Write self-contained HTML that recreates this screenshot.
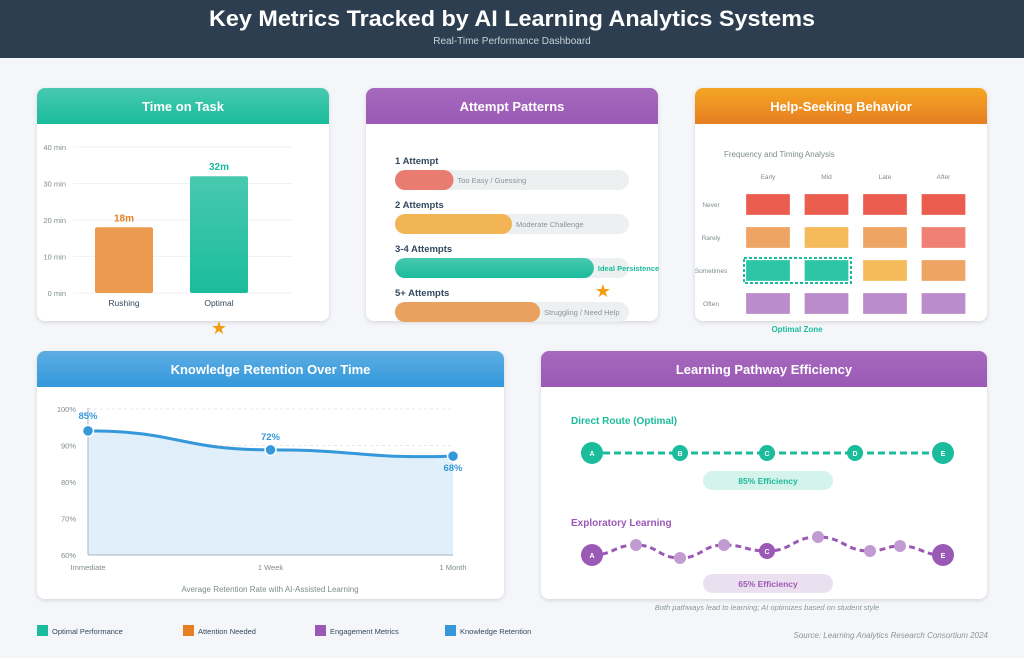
<!DOCTYPE html>
<html><head><meta charset="utf-8">
<style>
html,body{margin:0;padding:0;width:1024px;height:658px;overflow:hidden;background:#f5f6fa;font-family:"Liberation Sans",sans-serif;}
svg{display:block}
</style></head>
<body>
<svg id="s" width="1024" height="658" viewBox="0 0 1024 658" xmlns="http://www.w3.org/2000/svg" font-family="Liberation Sans, sans-serif">
<defs>
<linearGradient id="gT" x1="0" y1="0" x2="0" y2="1"><stop offset="0" stop-color="#48c9b0"/><stop offset="1" stop-color="#1abc9c"/></linearGradient>
<linearGradient id="gP" x1="0" y1="0" x2="0" y2="1"><stop offset="0" stop-color="#a569bd"/><stop offset="1" stop-color="#9b59b6"/></linearGradient>
<linearGradient id="gO" x1="0" y1="0" x2="0" y2="1"><stop offset="0" stop-color="#f5a623"/><stop offset="1" stop-color="#e67e22"/></linearGradient>
<linearGradient id="gB" x1="0" y1="0" x2="0" y2="1"><stop offset="0" stop-color="#5dade2"/><stop offset="1" stop-color="#3498db"/></linearGradient>
<filter id="sh" x="-5%" y="-5%" width="110%" height="115%"><feDropShadow dx="0" dy="1.5" stdDeviation="2" flood-color="#000" flood-opacity="0.13"/></filter>
</defs>
<g>
<rect x="0" y="0" width="1024" height="58" fill="#2c3e50"/>
<text x="512" y="26" text-anchor="middle" font-size="22" font-weight="bold" fill="#fff" textLength="606" lengthAdjust="spacingAndGlyphs">Key Metrics Tracked by AI Learning Analytics Systems</text>
<text x="512" y="44" text-anchor="middle" font-size="10" fill="#c9d1d9">Real-Time Performance Dashboard</text>
</g>
<g id="cards"></g>
<g id="content"></g>
</svg>
<script>
// ---- data ----
const timeCats=['Rushing','Optimal'];
const timeVals=[18,32];
const timeLabels=['18m','32m'];
const timeTicks=[0,10,20,30,40];
const attemptCats=['1 Attempt','2 Attempts','3-4 Attempts','5+ Attempts'];
const attemptVals=[25,50,85,62];
const attemptNotes=['Too Easy / Guessing','Moderate Challenge','Ideal Persistence','Struggling / Need Help'];
const heatCols=['Early','Mid','Late','After'];
const heatRows=['Never','Rarely','Sometimes','Often'];
const heatVals=[['#eb5e4f','#eb5e4f','#eb5e4f','#eb5e4f'],['#eea563','#f5bb5a','#eea563','#ef8073'],['#2ec4a6','#2ec4a6','#f5bb5a','#eea563'],['#bb8ccb','#bb8ccb','#bb8ccb','#bb8ccb']];
const retCats=['Immediate','1 Week','1 Month'];
const retVals=[94,88.8,87.1];
const retLabels=['85%','72%','68%'];
const retTicks=[60,70,80,90,100];

const NS='http://www.w3.org/2000/svg';
function el(tag,attrs,parent,txt){const e=document.createElementNS(NS,tag);for(const k in attrs)e.setAttribute(k,attrs[k]);if(txt!==undefined)e.textContent=txt;parent.appendChild(e);return e;}
const cards=document.getElementById('cards'), C=document.getElementById('content');

// cards
const cardDefs=[[37,88,292,233,'gT','Time on Task','time-on-task-card'],[366,88,292,233,'gP','Attempt Patterns','attempt-patterns-card'],[695,88,292,233,'gO','Help-Seeking Behavior','help-seeking-card'],[37,351,467,248,'gB','Knowledge Retention Over Time','retention-card'],[541,351,446,248,'gP','Learning Pathway Efficiency','pathway-card']];
cardDefs.forEach(d=>{
 const g=el('g',{},cards);
 
 
 el('rect',{x:d[0],y:d[1],width:d[2],height:d[3],rx:8,fill:'#fff',filter:'url(#sh)'},g);
 el('path',{d:`M${d[0]} ${d[1]+36}V${d[1]+8}a8 8 0 0 1 8 -8H${d[0]+d[2]-8}a8 8 0 0 1 8 8V${d[1]+36}Z`,fill:`url(#${d[4]})`},g);
 const t=el('text',{x:d[0]+d[2]/2,y:d[1]+23,'text-anchor':'middle','font-size':13,'font-weight':'bold',fill:'#fff'},g,d[5]);
 
 
});

// ---- time on task ----
const tY=v=>293-v*3.65;
const tg=el('g',{},C);


timeTicks.forEach(v=>{
 el('line',{x1:73,x2:292,y1:tY(v),y2:tY(v),stroke:'#f0f2f4','stroke-width':1},tg);
 const t=el('text',{x:66,y:tY(v)+3,'text-anchor':'end','font-size':7.5,fill:'#7f8c8d'},tg,v+' min');
 
 
});
const tColors=['#ec9a4f','url(#gT)'], tTxt=['#e67e22','#1abc9c'];
timeCats.forEach((c,i)=>{
 const x=95+i*95;
 const b=el('rect',{x:x,y:tY(timeVals[i]),width:58,height:tY(0)-tY(timeVals[i]),rx:2,fill:tColors[i]},tg);
 
 
 const v=el('text',{x:x+29,y:tY(timeVals[i])-6,'text-anchor':'middle','font-size':10,'font-weight':'bold',fill:tTxt[i]},tg,timeLabels[i]);
 
 
 const l=el('text',{x:x+29,y:306,'text-anchor':'middle','font-size':8.5,fill:'#34495e'},tg,c);
 
 
});
const st1=el('text',{x:219,y:334,'text-anchor':'middle','font-size':18,fill:'#f39c12'},tg,'★');



// ---- attempts ----
const ag=el('g',{},C);


const aColors=['#ea7b70','#f2b556','url(#gT)','#e9a160'];
attemptCats.forEach((c,i)=>{
 const y=170+i*44;
 const l=el('text',{x:395,y:y-6,'font-size':9.5,'font-weight':'bold',fill:'#34495e'},ag,c);
 
 
 el('rect',{x:395,y:y,width:234,height:20,rx:10,fill:'#ecf0f1'},ag);
 const w=234*attemptVals[i]/100;
 const b=el('rect',{x:395,y:y,width:w,height:20,rx:10,fill:aColors[i]},ag);
 
 
 const n=el('text',{x:395+w+4,y:y+13,'font-size':7.5,fill:i==2?'#1abc9c':'#8a9597','font-weight':i==2?'bold':'normal'},ag,attemptNotes[i]);
 
 
});
const st2=el('text',{x:603,y:297,'text-anchor':'middle','font-size':18,fill:'#f39c12'},ag,'★');



// ---- heatmap ----
const hg=el('g',{},C);


const hs=el('text',{x:724,y:157,'font-size':8,fill:'#7f8c8d'},hg,'Frequency and Timing Analysis');


const hX=i=>746+i*58.5, hYp=j=>194+j*33;
heatCols.forEach((c,i)=>{
 const t=el('text',{x:hX(i)+22,y:179,'text-anchor':'middle','font-size':6.5,fill:'#7f8c8d'},hg,c);
 
 
});
heatRows.forEach((r,j)=>{
 const t=el('text',{x:711,y:hYp(j)+13,'text-anchor':'middle','font-size':6.5,fill:'#7f8c8d'},hg,r);
 
 
 heatCols.forEach((c,i)=>{
  const cell=el('rect',{x:hX(i),y:hYp(j),width:44,height:21,fill:heatVals[j][i],stroke:'#fff','stroke-opacity':0.5,'stroke-width':0.5},hg);
  
  
 });
});
const oz=el('rect',{x:744,y:258,width:107,height:25,fill:'none',stroke:'#1abc9c','stroke-width':2,'stroke-dasharray':'3 2'},hg);


const ozt=el('text',{x:797,y:332,'text-anchor':'middle','font-size':8,'font-weight':'bold',fill:'#1abc9c'},hg,'Optimal Zone');



// ---- retention ----
const rg=el('g',{},C);


const rY=v=>555-(v-60)*3.65, rX=i=>88+i*182.5;
retTicks.forEach(v=>{
 if(v>60) el('line',{x1:88,x2:453,y1:rY(v),y2:rY(v),stroke:'#e6e9ec','stroke-dasharray':'3 3'},rg);
 const t=el('text',{x:76,y:rY(v)+3,'text-anchor':'end','font-size':7.5,fill:'#7f8c8d'},rg,v+'%');
 
 
});
const pts=retVals.map((v,i)=>[rX(i),rY(v)]);
let d=`M${pts[0][0]} ${pts[0][1]}`;
for(let i=1;i<pts.length;i++){const p=pts[i-1],q=pts[i],dx=(q[0]-p[0])/2;d+=` C${p[0]+dx} ${p[1]} ${q[0]-dx} ${q[1]+(i==2?3:0)} ${q[0]} ${q[1]}`;}
el('path',{d:d+` L${pts[2][0]} ${rY(60)} L${pts[0][0]} ${rY(60)}Z`,fill:'#e1effb'},rg);
el('line',{x1:88,x2:88,y1:408,y2:555,stroke:'#aab4bd','stroke-width':1},rg);
el('line',{x1:88,x2:453,y1:555,y2:555,stroke:'#aab4bd','stroke-width':1},rg);
const rl=el('path',{d:d,fill:'none',stroke:'#3498db','stroke-width':3},rg);


const lblDy=[-12,-10,15];
pts.forEach((p,i)=>{
 const c=el('circle',{cx:p[0],cy:p[1],r:5.5,fill:'#3498db',stroke:'#fff','stroke-width':1.5},rg);
 
 
 const t=el('text',{x:p[0],y:p[1]+lblDy[i],'text-anchor':'middle','font-size':9.5,'font-weight':'bold',fill:'#3498db'},rg,retLabels[i]);
 
 
 const x=el('text',{x:p[0],y:570,'text-anchor':'middle','font-size':7.5,fill:'#7f8c8d'},rg,retCats[i]);
 
 
});
const rc=el('text',{x:270,y:592,'text-anchor':'middle','font-size':8,fill:'#7f8c8d'},rg,'Average Retention Rate with AI-Assisted Learning');



// ---- pathways ----
const pg=el('g',{},C);


const dt=el('text',{x:571,y:424,'font-size':10,'font-weight':'bold',fill:'#1abc9c'},pg,'Direct Route (Optimal)');


el('line',{x1:592,x2:943,y1:453,y2:453,stroke:'#1abc9c','stroke-width':3,'stroke-dasharray':'7 4'},pg);
[['A',592,11],['B',680,8],['C',767,8],['D',855,8],['E',943,11]].forEach(n=>{
 const c=el('circle',{cx:n[1],cy:453,r:n[2],fill:'#1abc9c'},pg);
 
 
 el('text',{x:n[1],y:456,'text-anchor':'middle','font-size':7,'font-weight':'bold',fill:'#fff'},pg,n[0]);
});
el('rect',{x:703,y:471,width:130,height:19,rx:9.5,fill:'#d4f3ea'},pg);
const e1=el('text',{x:768,y:484,'text-anchor':'middle','font-size':8.5,'font-weight':'bold',fill:'#1abc9c'},pg,'85% Efficiency');


const et=el('text',{x:571,y:526,'font-size':10,'font-weight':'bold',fill:'#9b59b6'},pg,'Exploratory Learning');


const ex=[[592,555,11,'A'],[636,545,6],[680,558,6],[724,545,6],[767,551,8,'C'],[818,537,6],[870,551,6],[900,546,6],[943,555,11,'E']];
let ed=`M${ex[0][0]} ${ex[0][1]}`;
for(let i=1;i<ex.length;i++){const p=ex[i-1],q=ex[i],dx=(q[0]-p[0])/2;ed+=` C${p[0]+dx} ${p[1]} ${q[0]-dx} ${q[1]} ${q[0]} ${q[1]}`;}
el('path',{d:ed,fill:'none',stroke:'#9b59b6','stroke-width':3,'stroke-dasharray':'6 4'},pg);
ex.forEach(n=>{
 const c=el('circle',{cx:n[0],cy:n[1],r:n[2],fill:n[3]?'#9b59b6':'#c39bd3'},pg);
 
 
 if(n[3]) el('text',{x:n[0],y:n[1]+3,'text-anchor':'middle','font-size':7,'font-weight':'bold',fill:'#fff'},pg,n[3]);
});
el('rect',{x:703,y:574,width:130,height:19,rx:9.5,fill:'#ebe0f0'},pg);
const e2=el('text',{x:768,y:587,'text-anchor':'middle','font-size':8.5,'font-weight':'bold',fill:'#9b59b6'},pg,'65% Efficiency');


const pc=el('text',{x:767,y:610,'text-anchor':'middle','font-size':7.5,'font-style':'italic',fill:'#8a9597'},pg,'Both pathways lead to learning; AI optimizes based on student style');



// ---- legend ----
const lg=el('g',{},C);


[['Optimal Performance','#1abc9c',37],['Attention Needed','#e67e22',183],['Engagement Metrics','#9b59b6',315],['Knowledge Retention','#3498db',445]].forEach(l=>{
 const g=el('g',{},lg);
 
 
 el('rect',{x:l[2],y:625,width:11,height:11,fill:l[1]},g);
 el('text',{x:l[2]+15,y:634,'font-size':7.5,fill:'#34495e'},g,l[0]);
});
const src=el('text',{x:988,y:638,'text-anchor':'end','font-size':8,'font-style':'italic',fill:'#8a9597'},C,'Source: Learning Analytics Research Consortium 2024');


</script>
</body></html>
